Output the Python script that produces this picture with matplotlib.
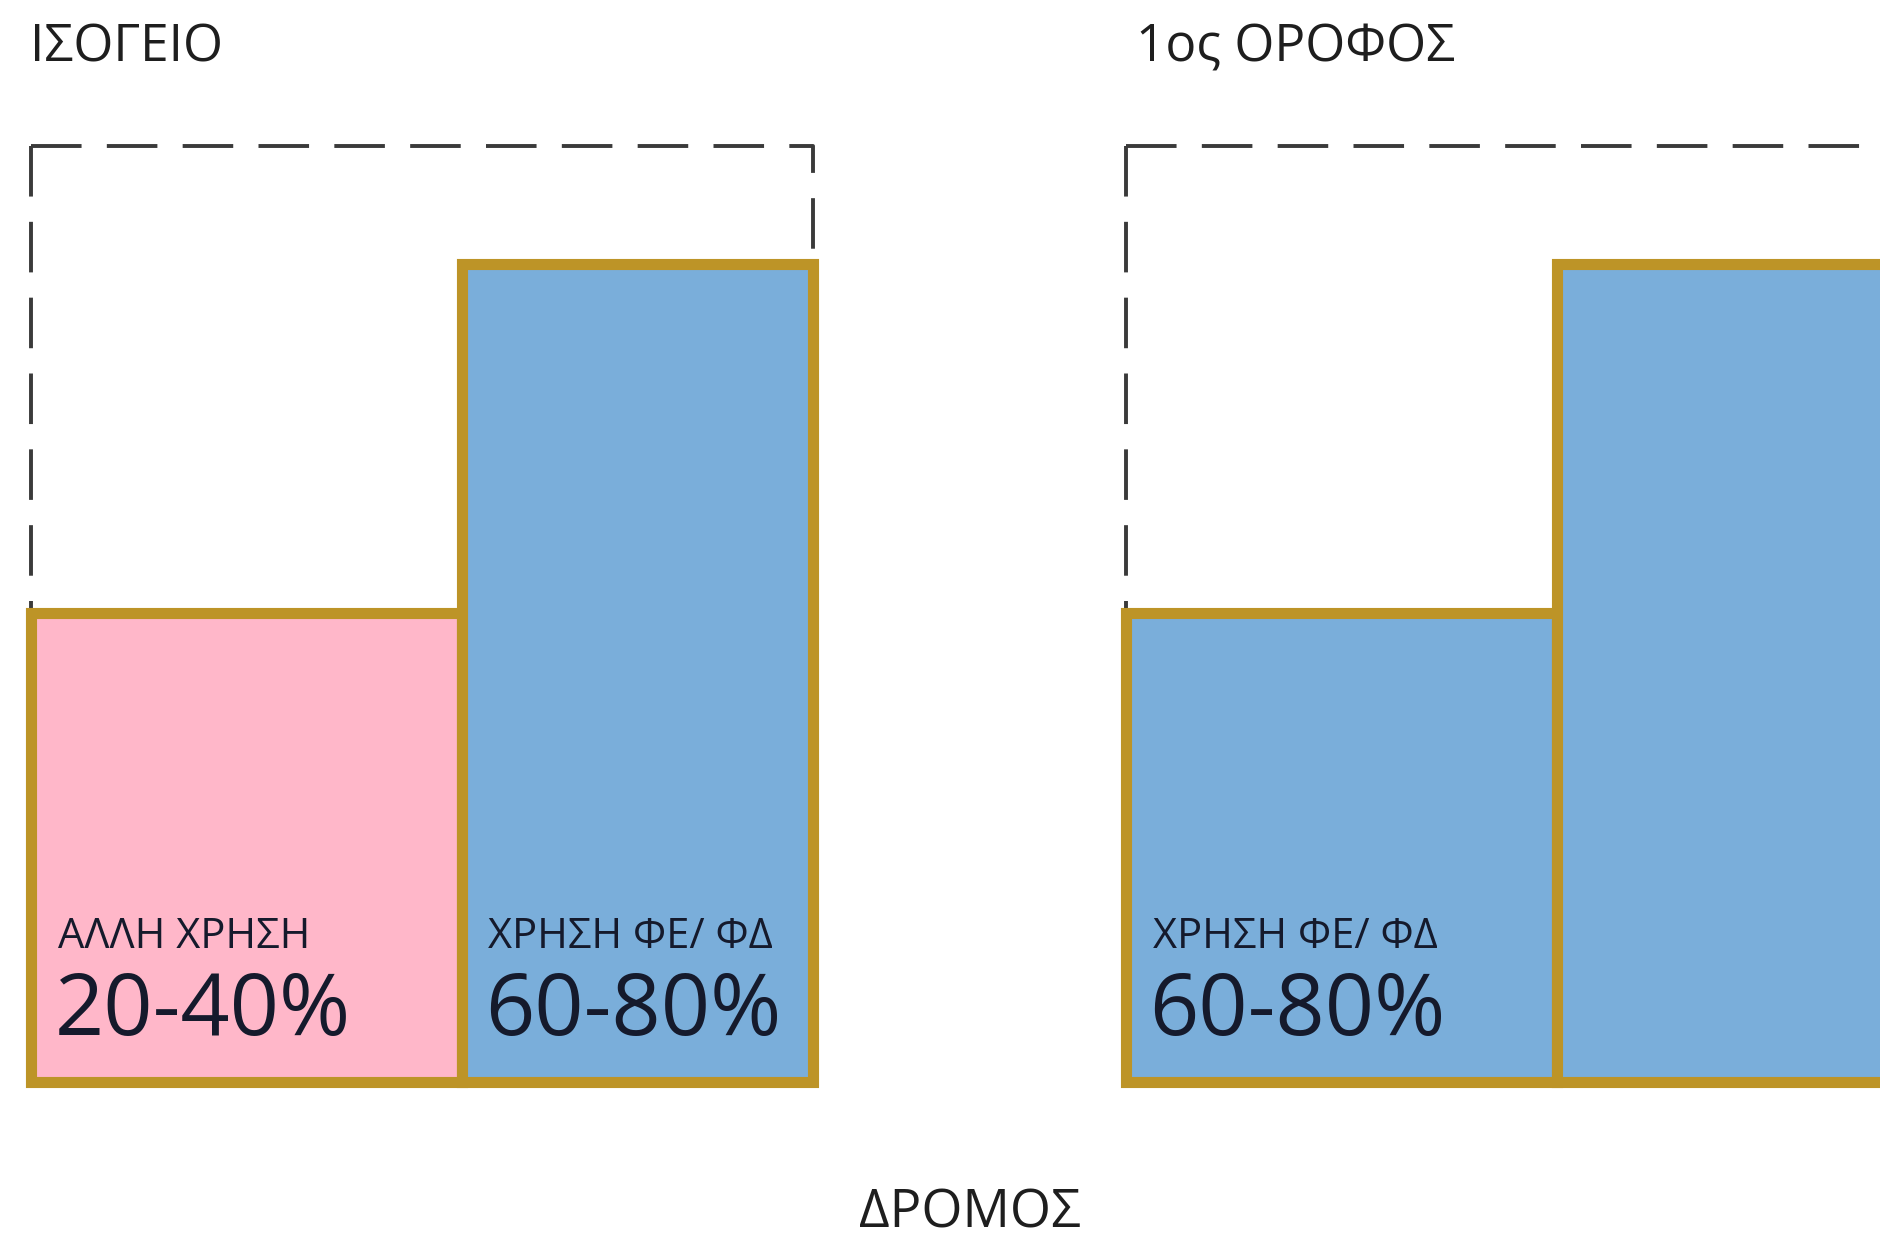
import matplotlib
matplotlib.use("Agg")
import matplotlib.pyplot as plt

plt.rcParams['font.family'] = ['Open Sans', 'Noto Sans', 'DejaVu Sans']

# ---- data ----
floors = ["ΙΣΟΓΕΙΟ", "1ος ΟΡΟΦΟΣ"]
segment_widths = [0.551, 0.449]          # share of plot width
segment_heights = [0.501, 0.874]         # share of permitted envelope height
use_labels = [["ΑΛΛΗ ΧΡΗΣΗ", "ΧΡΗΣΗ ΦΕ/ ΦΔ"], ["ΧΡΗΣΗ ΦΕ/ ΦΔ", ""]]
share_labels = [["20-40%", "60-80%"], ["60-80%", ""]]
segment_kinds = [["other", "home"], ["home", "home"]]
street_label = "ΔΡΟΜΟΣ"

# ---- styles ----
kind_colors = {"other": "#FFB7C9", "home": "#7AAEDA"}
edge_color = "#BD9427"
text_color = "#151a2c"
W, H = 1880, 1240

fig = plt.figure(figsize=(W / 100, H / 100), dpi=100)
fig.patch.set_facecolor("white")

panel_left = [31, 1126]
panel_width = 782
box_bottom = 1082
envelope_h = 936
title_x = [30, 1136]

lefts = [0.0]
for w in segment_widths[:-1]:
    lefts.append(lefts[-1] + w)

for i, floor in enumerate(floors):
    ax = fig.add_axes([panel_left[i] / W, (H - box_bottom) / H,
                       panel_width / W, envelope_h / H])
    ax.set_xlim(0, 1)
    ax.set_ylim(0, 1)
    ax.axis("off")
    colors = [kind_colors[k] for k in segment_kinds[i]]
    bars = ax.bar(lefts, segment_heights, width=segment_widths, align="edge",
                  color=colors, edgecolor=edge_color, linewidth=8, zorder=2)
    for b in bars:
        b.set_clip_on(False)
    # dashed envelope, starting at the top-left corner
    ax.plot([0, 0], [1, segment_heights[0]], color="#3a3a3a", lw=2.8,
            dashes=(13, 6.5), clip_on=False, zorder=1)
    ax.plot([0, 1, 1], [1, 1, segment_heights[1]], color="#3a3a3a", lw=2.8,
            dashes=(13, 6.5), clip_on=False, zorder=1)
    for j in range(len(segment_widths)):
        if use_labels[i][j]:
            ax.text(lefts[j] + 0.034, 0.143, use_labels[i][j], fontsize=30,
                    color=text_color, va="baseline", ha="left", zorder=3)
        if share_labels[i][j]:
            ax.text(lefts[j] + 0.030, 0.050, share_labels[i][j], fontsize=62,
                    color=text_color, va="baseline", ha="left", zorder=3)
    fig.text(title_x[i] / W, 1 - 61 / H, floor, fontsize=37, color="#1e1e1e",
             va="baseline", ha="left")

fig.text(970 / W, 1 - 1228 / H, street_label, fontsize=38, color="#1e1e1e",
         va="baseline", ha="center")

fig.savefig("out.png", dpi=100, facecolor="white")
